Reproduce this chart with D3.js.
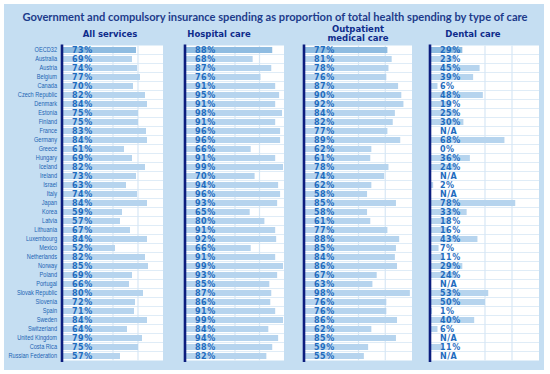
<!DOCTYPE html>
<html lang="en">
<head>
<meta charset="UTF-8">
<title>Public share of health spending by type of care</title>
<script src="https://d3js.org/d3.v7.min.js"></script>
<style>
  body { margin: 0; background: white; }
  svg { display: block; }
</style>
</head>
<body>
<div id="chart"></div>
<script>
// Countries, top to bottom
const countries = ["OECD32", "Australia", "Austria", "Belgium", "Canada", "Czech Republic", "Denmark",
  "Estonia", "Finland", "France", "Germany", "Greece", "Hungary", "Iceland", "Ireland", "Israel",
  "Italy", "Japan", "Korea", "Latvia", "Lithuania", "Luxembourg", "Mexico", "Netherlands", "Norway",
  "Poland", "Portugal", "Slovak Republic", "Slovenia", "Spain", "Sweden", "Switzerland",
  "United Kingdom", "Costa Rica", "Russian Federation"];

// Shares in %, null = N/A
const allServices = [73, 69, 74, 77, 70, 82, 84, 75, 75, 83, 84, 61, 69, 82, 73, 63, 74, 84, 59, 57,
  67, 84, 52, 82, 85, 69, 66, 80, 72, 71, 84, 64, 79, 75, 57];
const hospitalCare = [88, 68, 87, 76, 91, 95, 91, 98, 91, 96, 96, 66, 91, 99, 70, 94, 96, 93, 65, 80,
  91, 92, 66, 91, 99, 93, 85, 87, 86, 91, 99, 84, 94, 88, 82];
const outpatientCare = [77, 81, 78, 76, 87, 90, 92, 84, 82, 77, 89, 62, 61, 78, 74, 62, 58, 85, 58, 61,
  77, 88, 85, 84, 86, 67, 63, 98, 76, 76, 86, 62, 85, 59, 55];
const dentalCare = [29, 23, 45, 39, 6, 48, 19, 25, 30, null, 68, 0, 36, 24, null, 2, null, 78, 33, 18,
  16, 43, 7, 11, 29, 24, null, 53, 50, 1, 40, 6, null, 11, null];

const panelTitles = [["All services"], ["Hospital care"], ["Outpatient", "medical care"], ["Dental care"]];
const gridTicks = [50, 75];
const chartTitle = "Government and compulsory insurance spending as proportion of total health spending by type of care";

const width = 550, height = 374;

// layout of the four small plots (left edge, width, header centre)
const layout = [
  { x0: 63, w: 100, hx: 110 },
  { x0: 186, w: 98, hx: 219 },
  { x0: 305, w: 107, hx: 358 },
  { x0: 431, w: 108, hx: 473 }
];
const series = [allServices, hospitalCare, outpatientCare, dentalCare];

const colors = {
  bg: "#c5def2", plot: "#ffffff", grid: "#d7e7f5", bar: "#b6d4ee", barFirst: "#8fbce1",
  axis: "#0c1d7e", value: "#1f6cbe", header: "#0e2b8b", title: "#1d3b8b", label: "#2063b3"
};

const svg = d3.select("#chart")
  .append("svg")
  .attr("width", width)
  .attr("height", height);

// blue background panel
svg.append("rect")
  .attr("x", 4).attr("y", 4)
  .attr("width", 540).attr("height", 366)
  .attr("fill", colors.bg);

// main title
svg.append("text")
  .attr("x", 275).attr("y", 21)
  .attr("text-anchor", "middle")
  .attr("textLength", 505)
  .attr("lengthAdjust", "spacingAndGlyphs")
  .style("font-family", "Lato, 'Open Sans', sans-serif")
  .style("font-weight", "bold")
  .style("font-size", "11.5px")
  .attr("fill", colors.title)
  .text(chartTitle);

// shared row scale
const y = d3.scaleBand()
  .domain(countries)
  .range([45.5, 360.5])
  .paddingInner(0.33)
  .paddingOuter(0.165);

const plotTop = y.range()[0], plotBottom = y.range()[1];

// country labels (squeezed horizontally, narrow look)
svg.append("g")
  .selectAll("text")
  .data(countries)
  .join("text")
  .attr("transform", d => `translate(57,${y(d) + y.bandwidth() / 2}) scale(0.8,1)`)
  .attr("dy", "0.35em")
  .attr("text-anchor", "end")
  .style("font-family", "'Liberation Sans', Arial, sans-serif")
  .style("font-size", "7px")
  .attr("fill", colors.label)
  .text(d => d);

layout.forEach((p, i) => {
  const values = series[i];
  const rows = countries.map((c, k) => ({ country: c, value: values[k], first: k === 0 }));

  const x = d3.scaleLinear().domain([0, 100]).range([p.x0, p.x0 + p.w]);
  const g = svg.append("g");

  // white plot area
  g.append("rect")
    .attr("x", x(0)).attr("y", plotTop)
    .attr("width", x(100) - x(0)).attr("height", plotBottom - plotTop)
    .attr("fill", colors.plot);

  // horizontal separators between rows
  g.selectAll("line.row")
    .data(countries.slice(1))
    .join("line")
    .attr("class", "row")
    .attr("x1", x(0)).attr("x2", x(100))
    .attr("y1", d => y(d) - (y.step() - y.bandwidth()) / 2)
    .attr("y2", d => y(d) - (y.step() - y.bandwidth()) / 2)
    .attr("stroke", colors.grid)
    .attr("stroke-width", 0.8);

  // vertical grid lines
  g.selectAll("line.vgrid")
    .data(gridTicks)
    .join("line")
    .attr("class", "vgrid")
    .attr("x1", d => x(d)).attr("x2", d => x(d))
    .attr("y1", plotTop).attr("y2", plotBottom)
    .attr("stroke", colors.grid)
    .attr("stroke-width", 1.2);

  // bars
  g.selectAll("rect.bar")
    .data(rows.filter(d => d.value !== null))
    .join("rect")
    .attr("class", "bar")
    .attr("x", x(0))
    .attr("y", d => y(d.country))
    .attr("width", d => x(d.value) - x(0))
    .attr("height", y.bandwidth())
    .attr("fill", d => d.first ? colors.barFirst : colors.bar);

  // value labels
  g.selectAll("text.val")
    .data(rows)
    .join("text")
    .attr("class", "val")
    .attr("x", x(0) + 9)
    .attr("y", d => y(d.country) + y.bandwidth() / 2)
    .attr("dy", "0.36em")
    .style("font-family", "'DejaVu Sans', sans-serif")
    .style("font-weight", "bold")
    .style("font-size", "8px")
    .style("letter-spacing", "0.5px")
    .attr("fill", colors.value)
    .text(d => d.value === null ? "N/A" : d.value + "%");

  // dark axis line
  g.append("line")
    .attr("x1", x(0) - 1).attr("x2", x(0) - 1)
    .attr("y1", plotTop - 1).attr("y2", plotBottom + 1.5)
    .attr("stroke", colors.axis)
    .attr("stroke-width", 2.6);

  // panel header
  const lines = panelTitles[i];
  g.append("text")
    .attr("x", p.hx)
    .attr("y", lines.length > 1 ? 32 : 37)
    .attr("text-anchor", "middle")
    .style("font-family", "'DejaVu Sans', sans-serif")
    .style("font-weight", "bold")
    .style("font-size", "8.5px")
    .attr("fill", colors.header)
    .selectAll("tspan")
    .data(lines)
    .join("tspan")
    .attr("x", p.hx)
    .attr("dy", (d, k) => k === 0 ? 0 : "1.1em")
    .text(d => d);
});
</script>
</body>
</html>
